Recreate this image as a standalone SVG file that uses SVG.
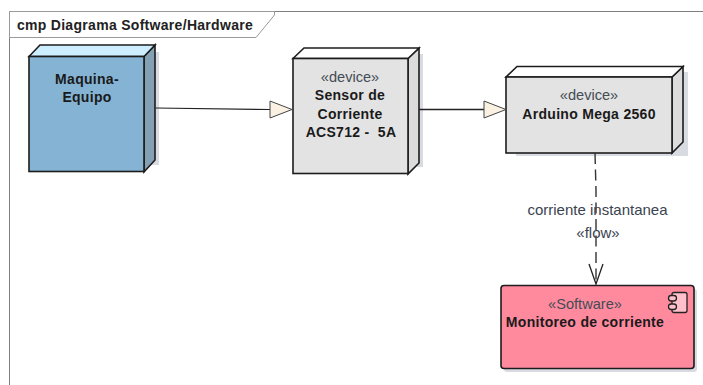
<svg xmlns="http://www.w3.org/2000/svg" width="703" height="385" viewBox="0 0 703 385">
<style>
text{font-family:"Liberation Sans",Arial,sans-serif;font-size:14px;text-anchor:middle;fill:#1a1a1a;white-space:pre}
.b{font-weight:bold;letter-spacing:.3px}
.s{fill:#444c55;font-size:14.6px}
.f{fill:#3a4350;font-size:15px}
.e{stroke:#1c1c1c;stroke-width:1.6;stroke-linejoin:miter}
.sh{fill:#d9dbe2;stroke:none}
.ln{fill:none;stroke:#222;stroke-width:1.2}
.hd{fill:#fbf1e3;stroke:#444;stroke-width:1}
.ic{fill:#ffc0cc;stroke:#222;stroke-width:1.3}
</style>
<rect width="703" height="385" fill="#fff"/>
<g id="frame">
<path d="M9.500 385V11.500H703" fill="none" stroke="#7f7f7f" stroke-width="1"/>
<path d="M9.500 11.500H274.500V15L256 37.500H9.500Z" fill="#fff" stroke="#9a9a9a" stroke-width="1"/>
<text x="135" y="30" style="font-weight:bold;letter-spacing:.3px;fill:#222">cmp Diagrama Software/Hardware</text>
</g>
<g id="node-maquina">
<rect class="sh" x="39" y="52" width="120" height="113"/>
<path class="e" fill="#84a0b5" d="M144 56.500L155 45V160L144 172Z"/>
<path class="e" fill="#cdeeff" d="M29 56.500L40 45H155L144 56.500Z"/>
<rect class="e" fill="#85b3d3" x="29" y="56.500" width="115" height="115"/>
<text class="b" x="87" y="84">Maquina-</text>
<text class="b" x="87" y="102">Equipo</text>
</g>
<g id="node-sensor">
<rect class="sh" x="303" y="54" width="120" height="113"/>
<path class="e" fill="#dcdcdc" d="M408 58.500L419 48V163L408 174Z"/>
<path class="e" fill="#fff" d="M293 58.500L304 48H419L408 58.500Z"/>
<rect class="e" fill="#e3e3e3" x="293" y="58.500" width="115" height="115"/>
<text class="s" x="350" y="82">«device»</text>
<text class="b" x="350" y="100">Sensor de</text>
<text class="b" x="350" y="119">Corriente</text>
<text class="b" x="351" y="137">ACS712 -  5A</text>
</g>
<g id="node-arduino">
<rect class="sh" x="516" y="72" width="172" height="84"/>
<path class="e" fill="#dcdcdc" d="M672 77L683 66.500V142L672 153Z"/>
<path class="e" fill="#fff" d="M506 77L517 66.500H683L672 77Z"/>
<rect class="e" fill="#e3e3e3" x="506" y="77" width="166" height="76"/>
<text class="s" x="589" y="100">«device»</text>
<text class="b" x="589" y="119">Arduino Mega 2560</text>
</g>
<g id="node-monitoreo">
<rect x="504" y="289" width="193" height="83" rx="3" fill="#d9dbe2"/>
<rect class="e" fill="#ff8a9e" x="501" y="285.500" width="193" height="83" rx="3"/>
<text class="s" x="585" y="309">«Software»</text>
<text class="b" x="585" y="327">Monitoreo de corriente</text>
<rect class="ic" x="672" y="292.500" width="15" height="20" rx="2"/>
<rect class="ic" x="668.500" y="295.500" width="8" height="5.500" rx="2.700"/>
<rect class="ic" x="668.500" y="304" width="8" height="5.500" rx="2.700"/>
</g>
<g id="connectors">
<path class="ln" d="M155.500 108L270 109.500"/>
<path class="hd" d="M270 101V118L292 109.500Z"/>
<path class="ln" style="stroke-width:1.6" d="M419 109.500H484"/>
<path class="hd" d="M484 101V118L506 109.500Z"/>
<path d="M595 153L596 190V283" fill="none" stroke="#333" stroke-width="1.400" stroke-dasharray="11 5.500"/>
<path d="M589 264L596 284L603 264" fill="none" stroke="#222" stroke-width="1.300"/>
</g>
<g id="flow-label">
<text class="f" x="597.500" y="215">corriente instantanea</text>
<text class="f" x="598" y="238">«flow»</text>
</g>
</svg>
